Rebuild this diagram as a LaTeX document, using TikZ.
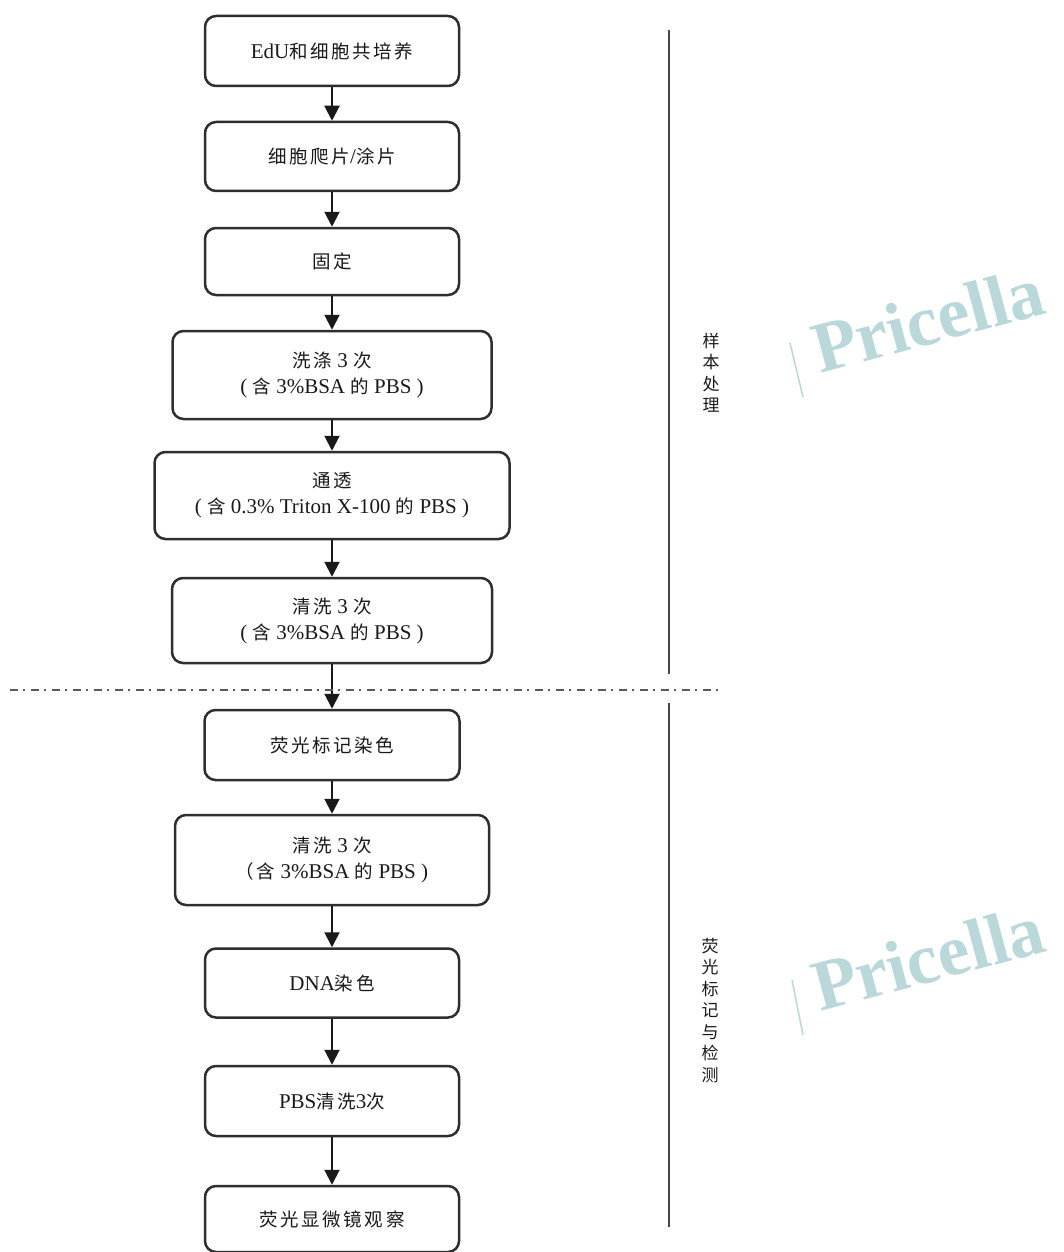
\documentclass[tikz,border=0pt]{standalone}
\usepackage{fontspec}
\setmainfont{Liberation Serif}
\newfontfamily\cjkfam[LetterSpace=14]{Noto Sans CJK SC}
\newfontfamily\cjkvfam{Noto Sans CJK SC}
\usetikzlibrary{arrows.meta}
\newcommand{\zhtext}[1]{{\fontsize{18.5}{26}\selectfont\cjkfam #1}}
\definecolor{boxline}{HTML}{2E2E2E}
\definecolor{wmcol}{HTML}{BAD7DA}
\begin{document}
\begin{tikzpicture}[x=1pt,y=-1pt,
  stepbox/.style={draw=boxline, line width=2.5pt, rounded corners=11pt, inner sep=0pt,
    align=center, text=black!90, font=\fontsize{21}{26}\selectfont},
  arr/.style={draw=black!90, line width=2pt, -{Triangle[width=15pt,length=15pt]}},
  sepline/.style={draw=black!72, line width=2pt},
  dashsep/.style={draw=black!65, line width=2pt, dash pattern=on 8pt off 5pt on 2pt off 6pt},
  vlabel/.style={font=\fontsize{17}{21.5}\selectfont\cjkvfam, align=center, text=black!90, inner sep=0pt},
  wmtext/.style={font=\fontsize{72}{72}\selectfont\bfseries, text=wmcol, inner sep=0pt},
  wmline/.style={draw=wmcol, line width=1.5pt}
]
\useasboundingbox (0,0) rectangle (1063,1252);

% upper part
\node[stepbox, minimum width=254pt, minimum height=70pt] (b1) at (332,51) {EdU\zhtext{和细胞共培养}};
\node[stepbox, minimum width=254pt, minimum height=69pt] (b2) at (332,156.5) {\zhtext{细胞爬片}/\zhtext{涂片}};
\node[stepbox, minimum width=254pt, minimum height=67pt] (b3) at (332,261.5) {\zhtext{固定}};
\node[stepbox, minimum width=319pt, minimum height=88pt] (b4) at (332,375) {\zhtext{洗涤} 3 \zhtext{次}\\( \zhtext{含} 3\%BSA \zhtext{的} PBS )};
\node[stepbox, minimum width=355pt, minimum height=87pt] (b5) at (332,495.5) {\zhtext{通透}\\( \zhtext{含} 0.3\% Triton X-100 \zhtext{的} PBS )};
\node[stepbox, minimum width=320pt, minimum height=85pt] (b6) at (332,620.5) {\zhtext{清洗} 3 \zhtext{次}\\( \zhtext{含} 3\%BSA \zhtext{的} PBS )};

% lower part
\node[stepbox, minimum width=255pt, minimum height=70pt] (b7) at (332,745) {\zhtext{荧光标记染色}};
\node[stepbox, minimum width=314pt, minimum height=90pt] (b8) at (332,860) {\zhtext{清洗} 3 \zhtext{次}\\\zhtext{（含} 3\%BSA \zhtext{的} PBS )};
\node[stepbox, minimum width=254pt, minimum height=69pt] (b9) at (332,983) {DNA\zhtext{染色}};
\node[stepbox, minimum width=254pt, minimum height=70pt] (b10) at (332,1101) {PBS\zhtext{清洗}3\zhtext{次}};
\node[stepbox, minimum width=254pt, minimum height=66pt] (b11) at (332,1219) {\zhtext{荧光显微镜观察}};

% arrows
\draw[arr] (b1) -- (b2);
\draw[arr] (b2) -- (b3);
\draw[arr] (b3) -- (b4);
\draw[arr] (b4) -- (b5);
\draw[arr] (b5) -- (b6);
\draw[arr] (b6) -- (b7);
\draw[arr] (b7) -- (b8);
\draw[arr] (b8) -- (b9);
\draw[arr] (b9) -- (b10);
\draw[arr] (b10) -- (b11);

% separator
\coordinate (dl) at (10,690);
\coordinate (dr) at (722,690);
\draw[dashsep] (dl) -- (dr);

% side lines
\coordinate (v1t) at (669,30);
\coordinate (v1b) at (669,674);
\coordinate (v2t) at (669,703);
\coordinate (v2b) at (669,1227);
\draw[sepline] (v1t) -- (v1b);
\draw[sepline] (v2t) -- (v2b);

% side labels
\node[vlabel] (lab1) at (711,372.5) {样\\本\\处\\理};
\node[vlabel] (lab2) at (710,1010.5) {荧\\光\\标\\记\\与\\检\\测};

% watermarks
\node[wmtext, anchor=base west, rotate=15] (wm1) at (820,374) {Pricella};
\coordinate (wm1a) at (790,343);
\coordinate (wm1b) at (803,397);
\draw[wmline] (wm1a) -- (wm1b);
\node[wmtext, anchor=base west, rotate=15] (wm2) at (820,1012) {Pricella};
\coordinate (wm2a) at (792,980);
\coordinate (wm2b) at (803,1035);
\draw[wmline] (wm2a) -- (wm2b);
\end{tikzpicture}
\end{document}
